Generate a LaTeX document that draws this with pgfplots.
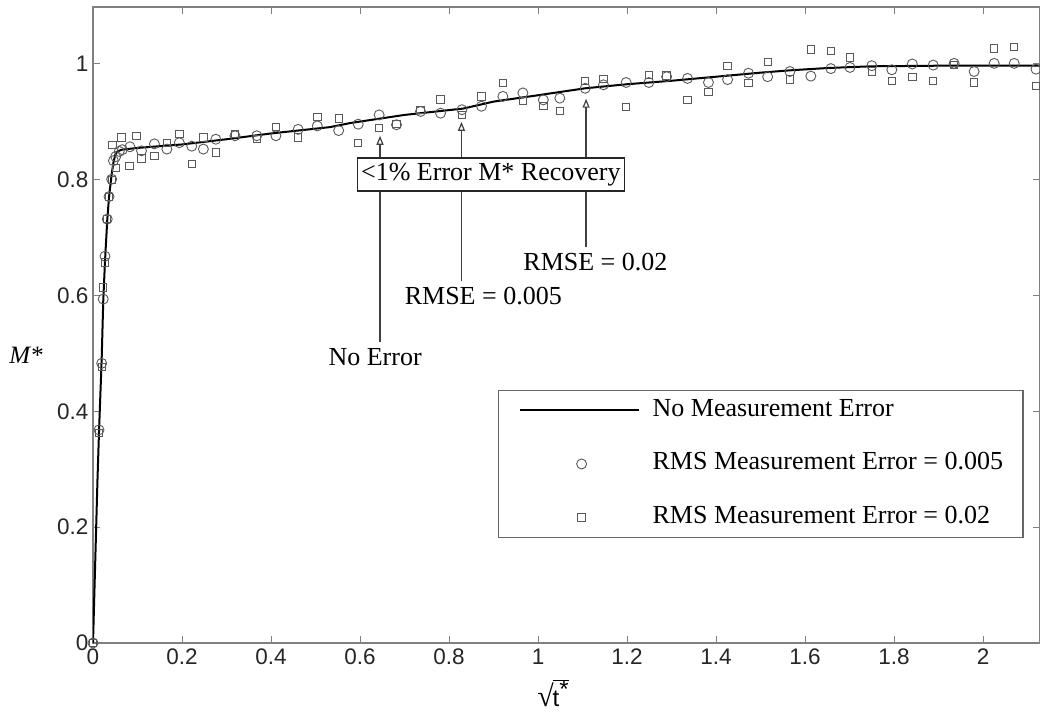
\RequirePackage{fix-cm}
\documentclass[border=0pt]{standalone}
\usepackage{fontspec}
\setmainfont{Liberation Serif}
\setsansfont{Liberation Sans}
\usepackage{pgfplots}
\pgfplotsset{compat=1.18}
\usetikzlibrary{arrows.meta}

\begin{document}
\begin{tikzpicture}
\begin{axis}[
    name=ax,
    scale only axis,
    width=947pt, height=636pt,
    xmin=0, xmax=2.128, ymin=0, ymax=1.0984,
    xtick={0,0.2,0.4,0.6,0.8,1,1.2,1.4,1.6,1.8,2},
    ytick={0,0.2,0.4,0.6,0.8,1},
    /pgf/number format/assume math mode=true,
    ticklabel style={font=\sffamily\fontsize{22.5}{24}\selectfont, text=black!85},
    xticklabel style={yshift=-2pt},
    yticklabel style={xshift=-1pt},
    axis line style={black!50, line width=1.3pt},
    major tick length=7pt,
    tick style={black!50, line width=1pt},
    xlabel={\fontsize{30}{30}\selectfont √\kern-1pt\fontsize{24}{26}\selectfont$\overline{\textsf{t}^{\textsf{*}}\vphantom{\textsf{l}}}$},
    xlabel style={at={(axis description cs:0.486,0)}, anchor=center, yshift=-50pt,
        inner sep=0pt},
    ylabel={\textit{M*}},
    ylabel style={at={(axis description cs:0,0.4525)}, anchor=center, rotate=-90,
        xshift=-67pt, font=\fontsize{25}{27}\selectfont},
    legend image code/.code={
        \draw[mark repeat=2,mark phase=2,#1] plot coordinates {(0pt,0pt) (62pt,0pt) (119pt,0pt)};},
    legend cell align=left,
    legend style={at={(0.4277,0.398)}, anchor=north west,
        draw=black!60, line width=1.2pt, fill=white,
        inner xsep=20pt, inner ysep=8pt,
        row sep=29.5pt, column sep=13pt,
        font=\fontsize{26}{28}\selectfont,
        nodes={inner sep=0pt, text height=18pt, text depth=6pt}},
]
% no measurement error
\addplot[black, line width=2pt] coordinates {
  (0,0) (0.005,0.14) (0.01,0.28) (0.0135,0.365) (0.0195,0.49) (0.023,0.59)
  (0.027,0.66) (0.032,0.73) (0.036,0.77) (0.042,0.81) (0.046,0.83) (0.05,0.843)
  (0.055,0.849) (0.065,0.852) (0.1,0.855) (0.2,0.861) (0.3,0.870) (0.4,0.880)
  (0.533,0.891) (0.578,0.898) (0.7,0.912) (0.832,0.923) (0.9,0.935) (1.0,0.946)
  (1.106,0.958) (1.2,0.965) (1.3,0.971) (1.4,0.978) (1.5,0.985) (1.566,0.989)
  (1.65,0.993) (1.75,0.996) (1.9,0.997) (2.128,0.997) };
\addlegendentry{No Measurement Error}
% RMS error 0.005
\addplot[only marks, mark=o, mark size=5pt, mark options={draw=black!65, line width=0.9pt}] coordinates {
  (0,0) (0.0135,0.368) (0.0195,0.483) (0.023,0.594) (0.027,0.668) (0.032,0.732)
  (0.036,0.771) (0.042,0.801) (0.046,0.833) (0.051,0.840) (0.059,0.849) (0.066,0.852)
  (0.083,0.857) (0.109,0.850) (0.138,0.862) (0.166,0.853) (0.194,0.864) (0.222,0.858)
  (0.248,0.853) (0.276,0.870) (0.319,0.876) (0.368,0.876) (0.411,0.876) (0.461,0.887)
  (0.504,0.893) (0.552,0.885) (0.596,0.896) (0.643,0.912) (0.682,0.895) (0.736,0.918)
  (0.781,0.915) (0.829,0.921) (0.873,0.927) (0.921,0.944) (0.966,0.950) (1.012,0.938)
  (1.049,0.941) (1.106,0.958) (1.147,0.964) (1.198,0.968) (1.249,0.968) (1.289,0.978)
  (1.336,0.975) (1.383,0.968) (1.426,0.973) (1.473,0.984) (1.516,0.978) (1.566,0.987)
  (1.613,0.979) (1.658,0.992) (1.701,0.994) (1.750,0.997) (1.795,0.990) (1.841,1.000)
  (1.888,0.998) (1.935,1.001) (1.980,0.987) (2.025,1.001) (2.070,1.001) (2.119,0.991) };
\addlegendentry{RMS Measurement Error = 0.005}
% RMS error 0.02
\addplot[only marks, mark=square, mark size=3.7pt, mark options={draw=black!65, line width=0.9pt}] coordinates {
  (0,0) (0.0135,0.363) (0.0195,0.477) (0.023,0.614) (0.027,0.657) (0.032,0.732)
  (0.036,0.770) (0.042,0.800) (0.044,0.860) (0.051,0.820) (0.064,0.873) (0.082,0.824)
  (0.098,0.876) (0.109,0.837) (0.138,0.841) (0.166,0.864) (0.194,0.879) (0.222,0.827)
  (0.248,0.873) (0.276,0.847) (0.319,0.879) (0.368,0.871) (0.411,0.891) (0.461,0.873)
  (0.504,0.908) (0.552,0.906) (0.596,0.864) (0.643,0.889) (0.682,0.896) (0.736,0.921)
  (0.781,0.939) (0.829,0.912) (0.873,0.944) (0.921,0.967) (0.966,0.936) (1.012,0.927)
  (1.049,0.919) (1.106,0.971) (1.147,0.974) (1.198,0.926) (1.249,0.981) (1.289,0.980)
  (1.336,0.938) (1.383,0.952) (1.426,0.997) (1.473,0.967) (1.516,1.004) (1.566,0.973)
  (1.613,1.025) (1.658,1.023) (1.701,1.011) (1.750,0.987) (1.795,0.971) (1.841,0.978)
  (1.888,0.971) (1.935,0.998) (1.980,0.968) (2.025,1.027) (2.070,1.029) (2.119,0.962) };
\addlegendentry{RMS Measurement Error = 0.02}

% annotations
\draw[black!75, line width=1.2pt, -{Triangle[open, length=9pt, width=7pt]}]
  (axis cs:0.645,0.52) -- (axis cs:0.645,0.876);
\draw[black!75, line width=1.2pt, -{Triangle[open, length=9pt, width=7pt]}]
  (axis cs:0.828,0.625) -- (axis cs:0.828,0.900);
\draw[black!75, line width=1.2pt, -{Triangle[open, length=9pt, width=7pt]}]
  (axis cs:1.108,0.684) -- (axis cs:1.108,0.940);
\node[draw=black!85, line width=1.2pt, fill=white, inner xsep=4pt, inner ysep=0pt,
  minimum height=33pt, font=\fontsize{26}{28}\selectfont]
  at (axis cs:0.894,0.809) {<1\% Error M* Recovery};
\node[font=\fontsize{26}{28}\selectfont] at (axis cs:0.634,0.494) {No Error};
\node[font=\fontsize{26}{28}\selectfont] at (axis cs:0.877,0.599) {RMSE = 0.005};
\node[font=\fontsize{26}{28}\selectfont] at (axis cs:1.129,0.658) {RMSE = 0.02};
\end{axis}
\pgfresetboundingbox
\path[use as bounding box] ([xshift=-93pt,yshift=-69pt]ax.south west) rectangle ([yshift=7pt]ax.north east);
\end{tikzpicture}
\end{document}
